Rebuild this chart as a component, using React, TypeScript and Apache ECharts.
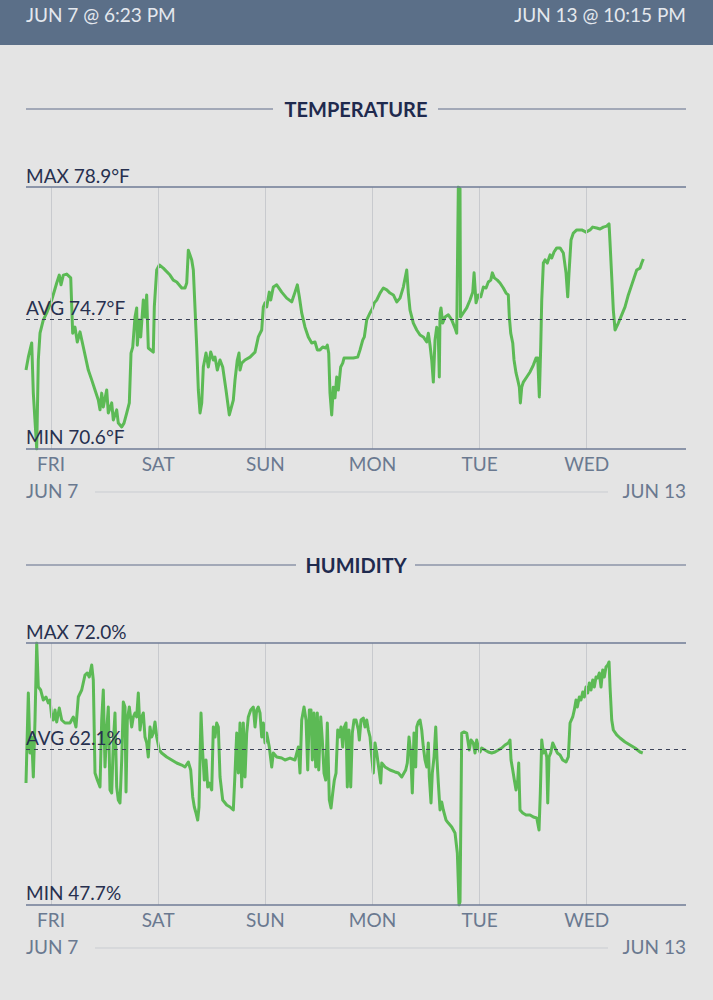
import React, { useEffect, useRef } from "react";
import * as echarts from "echarts";

// hours since Jun 7 @ 6:23 PM, value
const tempData: [number, number][] = [[0,73.10],[0.52,73.51],[1.28,73.96],[1.64,72.37],[2.40,70.6],[2.76,73.42],[3.14,74.27],[3.88,74.69],[4.64,74.91],[5.76,75.32],[6.88,75.86],[7.46,76.11],[7.84,75.80],[8.36,76.11],[9.12,76.14],[10.02,76.02],[10.46,74.27],[10.98,74.46],[11.49,73.99],[12.10,74.31],[12.84,73.83],[13.96,73.10],[14.72,72.79],[15.46,72.47],[16.20,72.15],[16.58,71.84],[16.96,72.37],[17.32,71.93],[18.08,72.47],[18.44,71.74],[19.20,72.06],[19.56,71.52],[20.32,71.84],[20.68,71.42],[21.44,71.30],[21.96,71.42],[22.56,71.74],[23.15,72.06],[23.53,73.64],[23.91,73.83],[24.42,74.78],[24.80,75.07],[24.94,73.89],[25.39,74.69],[25.70,74.15],[26.28,75.32],[26.66,74.78],[27.04,75.48],[27.40,73.80],[28.52,73.67],[28.75,75.10],[29.28,76.27],[29.87,76.43],[30.76,76.33],[32.26,76.11],[33.00,75.95],[33.77,75.89],[34.89,75.70],[35.63,75.70],[36.01,75.86],[36.37,76.90],[37.13,76.59],[37.49,76.27],[38.25,73.83],[38.61,72.47],[38.99,71.74],[39.37,72.06],[39.73,73.20],[40.33,73.64],[40.85,73.20],[41.38,73.67],[41.97,73.42],[42.35,73.51],[42.86,73.10],[43.47,73.42],[44.07,73.20],[44.81,72.47],[45.55,71.68],[46.45,72.15],[46.83,72.79],[47.34,73.42],[47.72,73.64],[47.95,73.10],[48.33,73.32],[49.07,73.42],[50.19,73.51],[51.31,73.67],[52.05,74.15],[52.81,74.37],[53.17,75.10],[53.55,75.23],[53.93,75.10],[54.51,75.57],[54.83,75.32],[55.41,75.73],[56.17,75.80],[57.29,75.57],[58.41,75.38],[59.53,75.26],[60.27,75.57],[60.79,75.80],[61.24,75.42],[61.77,74.91],[62.51,74.46],[63.25,74.15],[64.01,73.96],[64.75,73.99],[65.27,73.74],[65.87,73.74],[66.48,73.83],[67.15,73.80],[67.51,73.89],[67.82,73.64],[68.11,72.37],[68.49,71.68],[68.85,72.56],[69.23,72.22],[69.61,72.88],[69.97,72.47],[70.51,73.20],[70.96,73.32],[71.25,73.48],[72.21,73.48],[73.33,73.48],[74.32,73.51],[74.84,73.74],[75.44,74.05],[75.80,74.15],[76.34,74.69],[77.08,74.91],[77.68,75.07],[78.04,75.23],[78.58,75.32],[79.32,75.54],[80.06,75.70],[80.82,75.64],[81.56,75.54],[82.30,75.48],[83.06,75.26],[83.80,75.38],[84.54,75.73],[85.30,76.27],[85.66,75.54],[86.04,75.00],[86.78,74.59],[87.54,74.37],[88.28,74.21],[89.02,74.15],[89.78,73.99],[90.14,74.27],[90.52,73.89],[90.90,73.42],[91.26,72.72],[91.64,74.05],[92.02,74.46],[92.38,74.15],[92.60,72.88],[92.76,74.91],[92.98,75.07],[93.36,74.59],[93.88,74.78],[94.62,74.85],[95.38,74.69],[96.12,74.43],[96.50,74.27],[96.86,78.9],[97.24,78.85],[97.35,74.78],[97.98,74.91],[98.74,75.07],[99.48,75.32],[100.09,75.57],[100.39,76.18],[100.83,75.23],[101.35,75.48],[101.89,75.42],[102.47,75.73],[103.07,75.70],[103.58,75.89],[104.12,75.95],[104.48,76.18],[104.93,76.02],[105.60,75.95],[106.20,75.86],[106.94,75.70],[107.55,75.54],[108.06,75.48],[108.29,74.78],[108.60,74.27],[109.05,73.96],[109.34,73.42],[109.79,73.01],[110.17,72.79],[110.53,72.56],[110.76,72.06],[111.07,72.56],[111.43,72.72],[112.19,72.88],[112.93,73.04],[113.67,73.26],[114.27,73.48],[114.65,73.48],[115.01,72.25],[115.32,73.83],[115.55,75.32],[115.91,76.49],[116.29,76.59],[116.80,76.49],[117.41,76.75],[117.79,76.65],[118.30,76.84],[118.91,76.97],[119.65,76.97],[120.39,76.81],[120.99,76.18],[121.37,75.42],[121.66,76.18],[122.11,77.22],[122.63,77.44],[123.39,77.54],[124.51,77.54],[125.47,77.47],[126.37,77.54],[126.97,77.63],[127.87,77.60],[128.61,77.57],[129.35,77.63],[130.11,77.66],[130.63,77.73],[130.85,77.13],[131.23,76.05],[131.59,75.00],[131.97,74.37],[132.71,74.59],[133.47,74.85],[134.21,75.10],[134.95,75.48],[135.71,75.80],[136.45,76.11],[136.83,76.27],[137.57,76.33],[137.95,76.49],[138.31,76.62]];

const humData: [number, number][] = [[0,59.01],[0.52,67.36],[0.90,61.80],[1.28,63.28],[1.64,59.57],[2.02,64.86],[2.40,72.0],[2.76,67.92],[3.29,67.64],[3.88,66.71],[4.48,66.99],[5.00,66.44],[5.38,66.71],[5.76,65.14],[6.12,64.86],[6.50,65.79],[6.88,64.67],[7.46,65.97],[8.00,64.86],[8.74,64.58],[9.86,64.58],[10.60,65.14],[11.20,64.21],[11.72,66.99],[12.48,67.64],[13.22,69.03],[13.73,69.22],[14.18,68.85],[14.72,69.96],[15.08,68.57],[15.46,59.94],[15.98,59.29],[16.58,58.64],[16.96,64.86],[17.32,67.64],[17.70,60.50],[18.08,63.93],[18.44,66.06],[18.82,58.37],[19.20,58.09],[19.56,62.73],[19.94,65.51],[20.32,58.64],[20.68,57.44],[21.06,57.16],[21.44,61.15],[21.80,66.53],[22.18,66.06],[22.41,58.18],[22.70,64.86],[23.15,66.06],[23.68,64.21],[24.04,65.14],[24.42,65.51],[24.80,65.14],[25.16,67.36],[25.54,63.93],[25.92,65.14],[26.28,65.51],[26.66,63.28],[27.04,62.73],[27.40,61.43],[27.78,64.21],[28.16,63.28],[28.52,63.65],[28.90,64.67],[29.28,63.28],[29.87,62.08],[30.40,61.80],[31.53,61.43],[32.65,61.15],[33.77,60.87],[34.89,60.68],[35.63,60.50],[36.37,60.96],[36.90,60.22],[37.35,57.72],[37.71,56.79],[38.09,56.23],[38.47,55.58],[38.76,56.79],[39.21,65.51],[39.59,61.80],[39.95,59.29],[40.33,61.15],[40.71,58.64],[41.07,59.01],[41.61,58.37],[41.97,64.21],[42.35,63.28],[42.73,64.58],[43.09,64.21],[43.47,59.57],[44.07,57.44],[44.97,56.97],[45.71,56.79],[46.45,56.51],[46.83,59.94],[47.21,63.65],[47.57,59.94],[47.95,64.58],[48.33,58.64],[48.69,64.58],[49.07,59.57],[49.45,63.65],[49.81,65.14],[50.35,65.79],[50.93,66.06],[51.31,64.21],[51.69,65.79],[52.05,66.06],[52.43,65.51],[52.81,63.28],[53.17,64.58],[53.55,62.73],[53.93,63.65],[54.51,62.35],[55.05,60.50],[55.41,61.80],[56.17,61.43],[57.29,61.33],[58.03,61.15],[59.15,61.33],[60.27,61.15],[61.01,62.35],[61.39,59.94],[61.77,64.86],[62.29,66.06],[62.74,64.86],[63.12,60.22],[63.48,65.79],[63.86,65.79],[64.15,61.15],[64.53,65.51],[64.91,60.50],[65.27,65.51],[65.58,60.22],[66.03,65.14],[66.39,63.00],[66.77,59.94],[67.15,59.29],[67.51,64.58],[67.96,57.44],[68.34,56.70],[68.72,58.09],[69.08,59.29],[69.46,59.94],[69.84,63.93],[70.20,63.28],[70.58,64.21],[70.96,62.35],[71.32,64.21],[71.70,64.58],[71.99,58.64],[72.37,63.93],[72.75,58.64],[73.11,63.65],[73.49,64.86],[73.94,64.86],[74.46,63.93],[74.68,63.00],[75.06,64.86],[75.57,65.04],[75.96,64.21],[76.34,64.86],[76.70,63.93],[77.08,63.28],[77.46,61.43],[77.82,59.94],[78.20,62.73],[78.58,61.80],[79.09,60.22],[79.47,59.01],[79.70,60.87],[80.44,60.50],[81.56,60.22],[82.68,60.04],[83.42,59.94],[84.18,59.57],[84.69,59.94],[85.07,60.22],[85.43,60.87],[85.81,63.28],[86.19,61.80],[86.55,58.09],[86.93,63.65],[87.31,60.50],[87.54,64.21],[87.90,64.67],[88.28,64.86],[88.66,63.93],[89.02,62.35],[89.40,61.15],[89.78,60.50],[90.14,62.73],[90.36,59.57],[90.74,57.16],[91.03,59.94],[91.42,61.43],[91.80,64.21],[92.09,61.15],[92.38,59.01],[92.76,56.51],[93.14,57.25],[93.50,56.51],[94.11,55.58],[94.62,55.30],[95.38,54.93],[96.12,54.38],[96.64,52.52],[97.02,47.7],[97.24,48.0],[97.62,63.65],[98.14,63.75],[98.74,63.65],[99.32,62.08],[99.70,63.00],[100.22,62.73],[100.60,61.80],[100.98,63.00],[101.34,62.35],[101.72,61.89],[102.10,62.26],[102.84,62.08],[103.58,61.89],[104.34,61.80],[105.08,61.89],[105.82,62.08],[106.58,62.26],[107.32,62.54],[108.06,62.73],[108.44,63.00],[108.67,61.15],[109.05,60.22],[109.41,59.29],[109.79,58.37],[110.17,59.29],[110.39,60.87],[110.68,56.51],[111.29,56.23],[112.03,56.05],[112.93,56.05],[113.67,55.86],[114.43,55.77],[114.94,54.66],[115.23,58.09],[115.55,63.00],[115.91,61.80],[116.29,62.08],[116.67,61.43],[116.89,57.16],[117.18,61.43],[117.56,61.80],[118.01,62.73],[118.53,62.26],[119.04,61.80],[119.65,61.61],[120.25,61.15],[120.99,60.96],[121.51,61.43],[121.89,64.58],[122.49,65.14],[122.85,65.79],[123.23,66.71],[123.52,66.06],[123.97,66.99],[124.35,66.71],[124.73,67.46],[125.09,66.99],[125.47,67.92],[125.85,67.36],[126.21,68.29],[126.59,67.64],[126.97,68.57],[127.33,67.92],[127.71,68.85],[128.09,68.75],[128.45,69.22],[128.83,67.92],[129.21,69.50],[129.57,68.85],[129.95,69.77],[130.33,69.96],[130.63,70.24],[130.85,67.92],[131.23,64.86],[131.59,63.93],[132.35,63.47],[133.09,63.19],[134.21,62.82],[135.33,62.54],[136.45,62.26],[137.57,61.89],[138.18,61.80]];

const dayLabels = ["FRI", "SAT", "SUN", "MON", "TUE", "WED"];
const dayTickHours = [5.62, 29.62, 53.62, 77.62, 101.62, 125.62];
const totalHours = 147.87;

const tempStats = { max: 78.9, avg: 74.7, min: 70.6 };
const humStats = { max: 72.0, avg: 62.1, min: 47.7 };

const startLabel = "JUN 7 @ 6:23 PM";
const endLabel = "JUN 13 @ 10:15 PM";

const FONT = 'Lato, "Noto Sans", sans-serif';
const NAVY = "#27304f";
const AXIS = "#6f7b96";
const DAY = "#6a7990";
const GREEN = "#5cba55";

function markLines(stats: { max: number; avg: number; min: number }, unit: string) {
  const lbl = (text: string, dist: number) => ({
    show: true,
    position: "insideStartTop",
    formatter: text,
    color: NAVY,
    fontSize: 19,
    fontFamily: FONT,
    distance: [0, dist],
  });
  return {
    silent: true,
    symbol: ["none", "none"],
    animation: false,
    data: [
      ...dayTickHours.map((h, i) => ({
        xAxis: h,
        lineStyle: { color: "#c8cace", width: 1, type: "solid" },
        label: {
          show: true,
          position: "start",
          formatter: dayLabels[i],
          color: DAY,
          fontSize: 19,
          fontFamily: FONT,
          distance: 5,
        },
      })),
      { yAxis: stats.max, lineStyle: { color: AXIS, width: 1.5, type: "solid" }, label: lbl(`MAX ${stats.max.toFixed(1)}${unit}`, 2) },
      { yAxis: stats.avg, lineStyle: { color: "#3c4258", width: 1, type: [4, 4] }, label: lbl(`AVG ${stats.avg.toFixed(1)}${unit}`, 3) },
      { yAxis: stats.min, lineStyle: { color: AXIS, width: 1.5, type: "solid" }, label: lbl(`MIN ${stats.min.toFixed(1)}${unit}`, 3) },
    ],
  };
}

function sectionGraphics(title: string, titleY: number, leftEnd: number, rightStart: number, dateY: number) {
  return [
    { type: "line", shape: { x1: 26, y1: titleY, x2: leftEnd, y2: titleY }, style: { stroke: "#8d95a9", lineWidth: 1.5 } },
    { type: "line", shape: { x1: rightStart, y1: titleY, x2: 686, y2: titleY }, style: { stroke: "#8d95a9", lineWidth: 1.5 } },
    { type: "text", x: 356, y: titleY, style: { text: title, fill: "#1f2a4e", fontSize: 20, fontWeight: "bold", fontFamily: FONT, align: "center", verticalAlign: "middle" } },
    { type: "text", x: 26, y: dateY, style: { text: "JUN 7", fill: DAY, fontSize: 19, fontFamily: FONT, align: "left", verticalAlign: "middle" } },
    { type: "text", x: 686, y: dateY, style: { text: "JUN 13", fill: DAY, fontSize: 19, fontFamily: FONT, align: "right", verticalAlign: "middle" } },
    { type: "line", shape: { x1: 95, y1: dateY + 2, x2: 608, y2: dateY + 2 }, style: { stroke: "#c9ccd1", lineWidth: 1 } },
  ];
}

export default function App() {
  const ref = useRef<HTMLDivElement>(null);
  useEffect(() => {
    if (!ref.current) return;
    const chart = echarts.init(ref.current, null, { renderer: "svg" });
    const xAx = (gi: number) => ({
      type: "value",
      gridIndex: gi,
      min: 0,
      max: totalHours,
      axisLine: { show: false },
      axisTick: { show: false },
      axisLabel: { show: false },
      splitLine: { show: false },
    });
    const yAx = (gi: number, s: { max: number; min: number }) => ({
      type: "value",
      gridIndex: gi,
      min: s.min,
      max: s.max,
      show: false,
      splitLine: { show: false },
    });
    chart.setOption({
      animation: false,
      backgroundColor: "#e4e4e4",
      grid: [
        { left: 26, right: 27, top: 187, height: 262 },
        { left: 26, right: 27, top: 643, height: 262 },
      ],
      xAxis: [xAx(0), xAx(1)],
      yAxis: [yAx(0, tempStats), yAx(1, humStats)],
      series: [
        {
          type: "line",
          name: "Temperature",
          xAxisIndex: 0,
          yAxisIndex: 0,
          data: tempData,
          showSymbol: false,
          lineStyle: { color: GREEN, width: 3, join: "round" },
          itemStyle: { color: GREEN },
          markLine: markLines(tempStats, "°F"),
          z: 3,
        },
        {
          type: "line",
          name: "Humidity",
          xAxisIndex: 1,
          yAxisIndex: 1,
          data: humData,
          showSymbol: false,
          lineStyle: { color: GREEN, width: 3, join: "round" },
          itemStyle: { color: GREEN },
          markLine: markLines(humStats, "%"),
          z: 3,
        },
      ],
      graphic: [
        { type: "rect", shape: { x: 0, y: 0, width: 713, height: 45 }, style: { fill: "#5b6f88" } },
        { type: "text", x: 26, y: 14, style: { text: startLabel, fill: "#e4e8ee", fontSize: 19, fontFamily: FONT, align: "left", verticalAlign: "middle" } },
        { type: "text", x: 686, y: 14, style: { text: endLabel, fill: "#e4e8ee", fontSize: 19, fontFamily: FONT, align: "right", verticalAlign: "middle" } },
        ...sectionGraphics("TEMPERATURE", 109, 273, 438, 490),
        ...sectionGraphics("HUMIDITY", 565, 296, 415, 946),
      ],
    });
    return () => chart.dispose();
  }, []);
  return (
    <div
      ref={ref}
      style={{ position: "absolute", left: 0, top: 0, width: 713, height: 1000, background: "#e4e4e4" }}
    />
  );
}
